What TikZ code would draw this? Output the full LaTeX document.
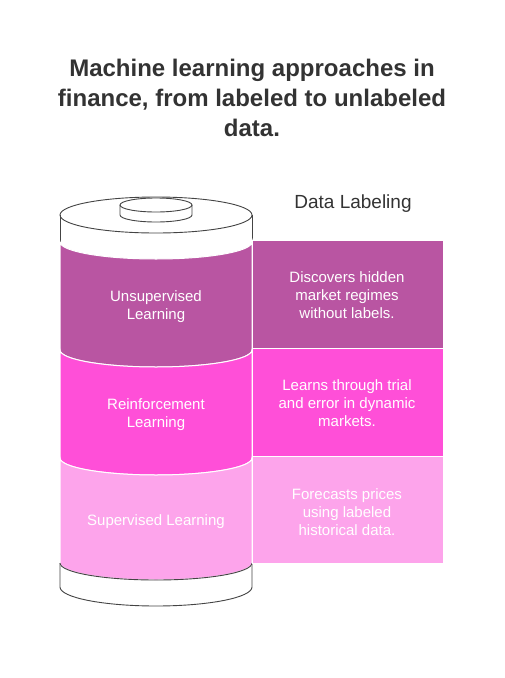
\documentclass[tikz,border=0pt]{standalone}
\usepackage{fontspec}
\setmainfont{Liberation Sans}
\definecolor{cU}{HTML}{B955A2}
\definecolor{cR}{HTML}{FF4FD8}
\definecolor{cS}{HTML}{FDA4EB}
\definecolor{ttl}{HTML}{333333}
\definecolor{edge}{HTML}{444444}
\begin{document}
\begin{tikzpicture}[x=1pt,y=-1pt,
  body/.style={font=\fontsize{15}{18}\selectfont, text=white, align=center},
  band/.style={draw=white, line width=1pt},
  outl/.style={draw=edge, line width=0.9pt}]
\useasboundingbox (0,0) rectangle (504,678);
\fill[white] (0,0) rectangle (504,678);
% title
\node[font=\bfseries\fontsize{24}{30}\selectfont, text=ttl, align=center] (title) at (252,98)
  {Machine learning approaches in\\finance, from labeled to unlabeled\\data.};
\node[font=\fontsize{19}{22}\selectfont, text=ttl] (dl) at (353,204) {Data Labeling};
% cylinder bottom
\fill[white] (60,563) -- (60,587) arc (180:0:96 and 19) -- (252,563) arc (0:180:96 and 17) -- cycle;
\draw[outl] (60,563) -- (60,587) arc (180:0:96 and 19) -- (252,563);
% cylinder top
\fill[white] (60,215) -- (60,242) arc (180:0:96 and 17) -- (252,215) arc (0:180:96 and 18) -- cycle;
\draw[outl] (60,215) -- (60,242);
\draw[outl] (252,215) -- (252,242);
\draw[outl] (156,215) ellipse (96 and 18);
% cap
\filldraw[fill=white, outl] (120,205) -- (120,215) arc (180:0:36 and 7) -- (192,205);
\draw[outl] (156,205) ellipse (36 and 7);
% bands
\path[band, fill=cU] (60,242) -- (60,350) arc (180:0:96 and 17) -- (252,242) arc (0:180:96 and 17) -- cycle;
\path[band, fill=cR] (60,350) -- (60,458) arc (180:0:96 and 17) -- (252,350) arc (0:180:96 and 17) -- cycle;
\path[band, fill=cS] (60,458) -- (60,563) arc (180:0:96 and 17) -- (252,458) arc (0:180:96 and 17) -- cycle;
\draw[outl] (60,563) arc (180:0:96 and 17);
\node[body] (u) at (156,307) {Unsupervised\\Learning};
\node[body] (r) at (156,415) {Reinforcement\\Learning};
\node[body] (s) at (156,522) {Supervised Learning};
% right boxes
\path[band, fill=cU] (252,240) rectangle (443,348);
\path[band, fill=cR] (252,348) rectangle (443,456);
\path[band, fill=cS] (252,456) rectangle (443,563);
\node[body] (ud) at (347,295) {Discovers hidden\\market regimes\\without labels.};
\node[body] (rd) at (347,403) {Learns through trial\\and error in dynamic\\markets.};
\node[body] (sd) at (347,512) {Forecasts prices\\using labeled\\historical data.};
\end{tikzpicture}
\end{document}
